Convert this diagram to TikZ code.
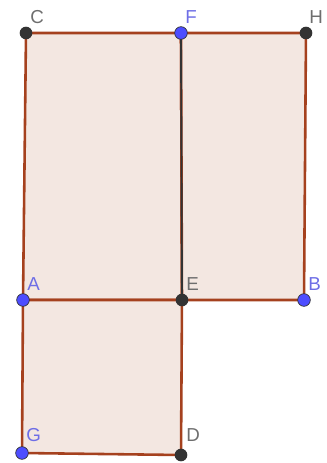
\documentclass[tikz,border=0pt]{standalone}
\usepackage{fontspec}
\setmainfont{Liberation Sans}
\usepackage{tikz}
\usetikzlibrary{positioning}
\definecolor{edgebrown}{RGB}{165,65,30}
\definecolor{facefill}{RGB}{243,231,225}
\definecolor{ptblue}{RGB}{77,77,255}
\definecolor{ptdark}{RGB}{51,51,51}
\definecolor{lblblue}{RGB}{110,110,230}
\definecolor{lblgray}{RGB}{110,110,110}
\tikzset{
    geo figure/.style={
            x=0.03cm,y=-0.03cm,
            face/.style={fill=facefill,draw=edgebrown,line width=2.2pt,line join=round},
            bluept/.style={circle,fill=ptblue,draw=ptdark,line width=0.6pt,inner sep=0pt,minimum size=0.38cm},
            darkpt/.style={circle,fill=ptdark,inner sep=0pt,minimum size=0.38cm},
            bluelbl/.style={text=lblblue,font=\fontsize{16}{18}\selectfont,inner sep=1pt},
            graylbl/.style={text=lblgray,font=\fontsize{16}{18}\selectfont,inner sep=1pt}
        }
    }
\begin{document}
\begin{tikzpicture}[geo figure]
    \useasboundingbox (0,0) rectangle (326,463);
    \coordinate (C) at (26,33);
    \coordinate (F) at (181,33);
    \coordinate (H) at (306,33);
    \coordinate (A) at (23,300);
    \coordinate (E) at (182,300);
    \coordinate (B) at (304,300);
    \coordinate (G) at (22,453);
    \coordinate (D) at (181,455);
    % faces
    \draw [face] (C) -- (F) -- (E) -- (A) -- cycle;
    \draw [face] (F) -- (H) -- (B) -- (E) -- cycle;
    \draw [face] (A) -- (E) -- (D) -- (G) -- cycle;
    \draw [ptdark, line width=1.6pt] (F) -- (E);
    % points
    \node [darkpt] (pC) at (C) {};
    \node [bluept] (pF) at (F) {};
    \node [darkpt] (pH) at (H) {};
    \node [bluept] (pA) at (A) {};
    \node [darkpt] (pE) at (E) {};
    \node [bluept] (pB) at (B) {};
    \node [bluept] (pG) at (G) {};
    \node [darkpt] (pD) at (D) {};
    % labels
    \node [graylbl, anchor=south west] (lC) at (29,25) {C};
    \node [bluelbl, anchor=south west] (lF) at (184,25) {F};
    \node [graylbl, anchor=south west] (lH) at (308,25) {H};
    \node [bluelbl, anchor=south west] (lA) at (26,292) {A};
    \node [graylbl, anchor=south west] (lE) at (185,292) {E};
    \node [bluelbl, anchor=south west] (lB) at (307,292) {B};
    \node [bluelbl, anchor=south west] (lG) at (25,443) {G};
    \node [graylbl, anchor=south west] (lD) at (185,443) {D};
\end{tikzpicture}
\end{document}
